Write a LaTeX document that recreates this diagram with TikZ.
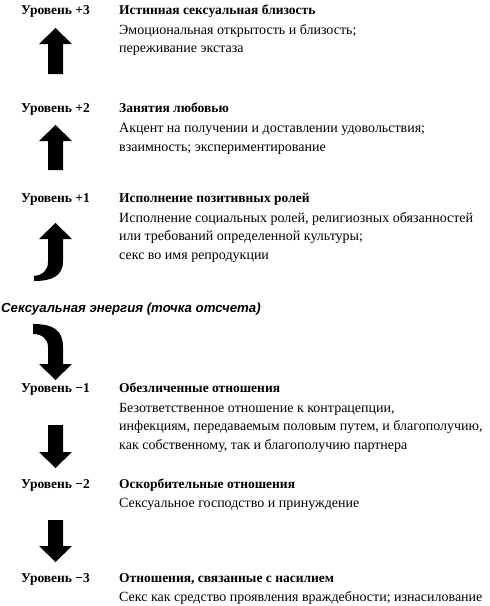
\documentclass[tikz,border=0pt]{standalone}
\usepackage{fontspec}
\setmainfont{Liberation Serif}
\newfontfamily\headfont{Liberation Sans}
\newcommand\myuparrow[3]{% x centre, tip y, bottom y
  \fill[arrowfill] (#1,#2) -- (#1+16.5,#2+16) -- (#1+7.5,#2+16) -- (#1+7.5,#3)
    -- (#1-7.5,#3) -- (#1-7.5,#2+16) -- (#1-16.5,#2+16) -- cycle;}
\newcommand\mydownarrow[3]{% x centre, tip y, top y
  \fill[arrowfill] (#1,#2) -- (#1+16.5,#2-16) -- (#1+7.5,#2-16) -- (#1+7.5,#3)
    -- (#1-7.5,#3) -- (#1-7.5,#2-16) -- (#1-16.5,#2-16) -- cycle;}
\begin{document}
\begin{tikzpicture}[x=1pt,y=-1pt,
  lvl/.style={font=\bfseries\fontsize{13.5}{16}\selectfont,anchor=base west,inner sep=0pt},
  ttl/.style={font=\bfseries\fontsize{13.5}{16}\selectfont,anchor=base west,inner sep=0pt},
  txt/.style={font=\fontsize{14}{16}\selectfont,anchor=base west,inner sep=0pt},
  head/.style={font=\headfont\bfseries\itshape\fontsize{13.2}{16}\selectfont,anchor=base west,inner sep=0pt},
  arrowfill/.style={fill=black}]
\fill[white] (0,0) rectangle (490,606);
\useasboundingbox (0,0) rectangle (490,606);

% level +3
\node[lvl] (l3) at (21,14) {Уровень +3};
\node[ttl] (t3) at (119,14) {Истинная сексуальная близость};
\node[txt] (t3a) at (119,34) {Эмоциональная открытость и близость;};
\node[txt] (t3b) at (119,52) {переживание экстаза};
\myuparrow{55.5}{28}{74}

% level +2
\node[lvl] (l2) at (21,112) {Уровень +2};
\node[ttl] (t2) at (119,112) {Занятия любовью};
\node[txt] (t2a) at (119,132) {Акцент на получении и доставлении удовольствия;};
\node[txt] (t2b) at (119,151) {взаимность; экспериментирование};
\myuparrow{55.5}{125}{170}

% level +1
\node[lvl] (l1) at (21,202) {Уровень +1};
\node[ttl] (t1) at (119,202) {Исполнение позитивных ролей};
\node[txt] (t1a) at (119,222) {Исполнение социальных ролей, религиозных обязанностей};
\node[txt] (t1b) at (119,240) {или требований определенной культуры;};
\node[txt] (t1c) at (119,259) {секс во имя репродукции};
\fill[arrowfill] (55.5,223) -- (72,239) -- (63,239) -- (63,261)
  .. controls (63,276) and (52,281) .. (34,281) -- (34,276)
  .. controls (43,275) and (48,270) .. (48,262) -- (48,239) -- (39,239) -- cycle;

% reference point
\node[head] (h) at (1,312) {Сексуальная энергия (точка отсчета)};

% curved down arrow
\fill[arrowfill] (33,324) .. controls (53,324) and (63,330) .. (63,347) -- (63,364)
  -- (72,364) -- (55.5,380) -- (39,364) -- (48,364) -- (48,347)
  .. controls (48,339) and (42,334) .. (33,334) -- cycle;

% level -1
\node[lvl] (m1) at (21,392) {Уровень −1};
\node[ttl] (u1) at (119,392) {Обезличенные отношения};
\node[txt] (u1a) at (119,412) {Безответственное отношение к контрацепции,};
\node[txt] (u1b) at (119,430) {инфекциям, передаваемым половым путем, и благополучию,};
\node[txt] (u1c) at (119,449) {как собственному, так и благополучию партнера};
\mydownarrow{55.5}{468}{425}

% level -2
\node[lvl] (m2) at (21,488) {Уровень −2};
\node[ttl] (u2) at (119,488) {Оскорбительные отношения};
\node[txt] (u2a) at (119,507) {Сексуальное господство и принуждение};
\mydownarrow{55.5}{562}{520}

% level -3
\node[lvl] (m3) at (21,582) {Уровень −3};
\node[ttl] (u3) at (119,582) {Отношения, связанные с насилием};
\node[txt] (u3a) at (119,601) {Секс как средство проявления враждебности; изнасилование};
\end{tikzpicture}
\end{document}
